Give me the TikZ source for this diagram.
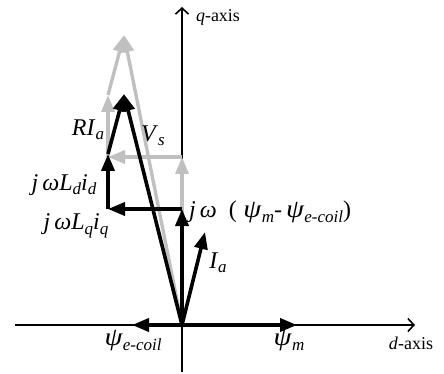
\documentclass[tikz,border=0pt]{standalone}
\usepackage{fontspec}
\setmainfont{Liberation Serif}
\usetikzlibrary{arrows.meta,positioning}
\definecolor{cVec}{HTML}{000000}
\definecolor{cOld}{HTML}{C0C0C0}
\newcommand{\subl}[1]{\raisebox{-0.4ex}{\fontsize{17}{17}\selectfont\itshape #1}}
\newcommand{\psig}{\scalebox{1.2}[1.05]{\textit{ψ}}}
\tikzset{
  ax/.style   = {draw=cVec, line width=1.6pt, -{Straight Barb[length=6pt,width=13pt]}},
  vec/.style  = {draw=cVec, line width=3.6pt, -{Triangle[length=17pt,width=13pt]}},
  vecg/.style = {draw=cOld, line width=3.4pt, -{Triangle[length=17pt,width=13pt]}},
  lab/.style  = {font=\fontsize{24}{26}\selectfont, inner sep=0pt},
  axlab/.style = {font=\fontsize{18}{20}\selectfont, inner sep=0pt},
}

\begin{document}
\begin{tikzpicture}[x=1pt, y=-1pt]
  \useasboundingbox (0,0) rectangle (444,374);
  % points of the diagram
  \coordinate (O)   at (182,325);
  \coordinate (dl)  at (15,325);
  \coordinate (dr)  at (415,325);
  \coordinate (qb)  at (182,372);
  \coordinate (qt)  at (182,7);
  \coordinate (pm)  at (297,325);
  \coordinate (pe)  at (132,325);
  \coordinate (ia)  at (205,232);
  \coordinate (e1)  at (182,209);
  \coordinate (e2)  at (108,209);
  \coordinate (e3)  at (108,154);
  \coordinate (vs)  at (124,94);
  \coordinate (g1)  at (182,157);
  \coordinate (g2)  at (108,157);
  \coordinate (g3)  at (108,95);
  \coordinate (gs)  at (124,35);

  % axes
  \draw[ax] (dl) -- (dr);
  \draw[ax] (qb) -- (qt);

  % grey set
  \draw[vecg] (O) -- (g1);
  \draw[vecg] (g1) -- (g2);
  \draw[vecg] (g2) -- (g3);
  \draw[vecg] (g3) -- (gs);
  \draw[vecg] (O) -- (gs);

  % black set
  \draw[vec] (O) -- (pm);
  \draw[vec] (O) -- (pe);
  \draw[vec] (O) -- (ia);
  \draw[vec] (O) -- (e1);
  \draw[vec] (e1) -- (e2);
  \draw[vec] (e2) -- (e3);
  \draw[vec] (e3) -- (vs);
  \draw[vec] (O) -- (vs);

  % labels
  \node[axlab] (lq)  at (218,17)  {\textit{q}-axis};
  \node[axlab] (ld)  at (411,343) {\textit{d}-axis};
  \node[lab] (lpm)  at (289,341) {\psig\subl{m}};
  \node[lab] (lpe)  at (133,341) {\psig\subl{e-coil}};
  \node[lab] (lia)  at (218,263) {\textit{I}\subl{a}};
  \node[lab, anchor=west] (ljw) at (189,212)
    {\textit{j}\,\textit{ω}\enspace(\;\psig\subl{m}-\,\psig\subl{e-coil})};
  \node[lab] (llq)  at (76,226)  {\textit{j}\,\textit{ωL}\subl{q}\textit{i}\subl{q}};
  \node[lab] (lld)  at (64,185)  {\textit{j}\,\textit{ωL}\subl{d}\textit{i}\subl{d}};
  \node[lab] (lri)  at (88,130)  {\textit{RI}\subl{a}};
  \node[lab] (lvs)  at (153,136) {\textit{V}\subl{s}};
\end{tikzpicture}
\end{document}
